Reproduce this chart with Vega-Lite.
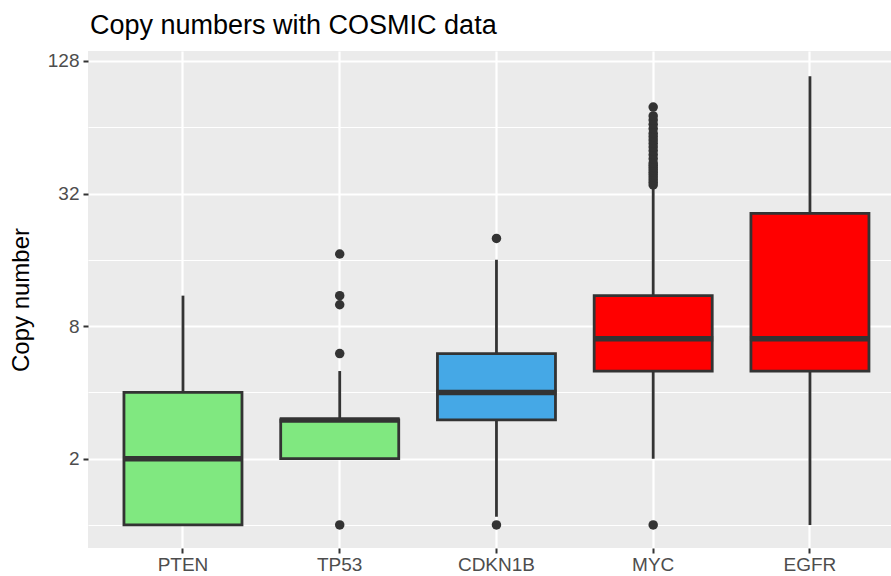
{
  "$schema": "https://vega.github.io/schema/vega-lite/v6.json",
  "width": 803,
  "height": 497,
  "autosize": {"type": "none"},
  "padding": {"left": 88, "top": 51, "right": 0, "bottom": 28},
  "background": "white",
  "title": {
    "text": "Copy numbers with COSMIC data",
    "anchor": "start",
    "frame": "group",
    "baseline": "alphabetic",
    "offset": 18,
    "dx": 2,
    "dy": 28,
    "fontSize": 27,
    "fontWeight": "normal",
    "font": "Liberation Sans",
    "color": "#000000"
  },
  "config": {
    "view": {"fill": "#EBEBEB", "stroke": null},
    "font": "Liberation Sans"
  },
  "datasets": {
    "boxes": [
      {"gene": "PTEN", "lower": 1, "q1": 1, "median": 2, "q3": 4, "upper": 11},
      {"gene": "TP53", "lower": 2, "q1": 2, "median": 3, "q3": 3, "upper": 5},
      {"gene": "CDKN1B", "lower": 1.09, "q1": 3, "median": 4, "q3": 6, "upper": 16},
      {"gene": "MYC", "lower": 2, "q1": 5, "median": 7, "q3": 11, "upper": 34},
      {"gene": "EGFR", "lower": 1, "q1": 5, "median": 7, "q3": 26, "upper": 109}
    ],
    "outliers": [
      {"gene": "TP53", "value": 1},
      {"gene": "TP53", "value": 6},
      {"gene": "TP53", "value": 10},
      {"gene": "TP53", "value": 11},
      {"gene": "TP53", "value": 17},
      {"gene": "CDKN1B", "value": 1},
      {"gene": "CDKN1B", "value": 20},
      {"gene": "MYC", "value": 1},
      {"gene": "MYC", "value": 35},
      {"gene": "MYC", "value": 36},
      {"gene": "MYC", "value": 37},
      {"gene": "MYC", "value": 38},
      {"gene": "MYC", "value": 39},
      {"gene": "MYC", "value": 40},
      {"gene": "MYC", "value": 41},
      {"gene": "MYC", "value": 42},
      {"gene": "MYC", "value": 43},
      {"gene": "MYC", "value": 44},
      {"gene": "MYC", "value": 46},
      {"gene": "MYC", "value": 48},
      {"gene": "MYC", "value": 50},
      {"gene": "MYC", "value": 52},
      {"gene": "MYC", "value": 54},
      {"gene": "MYC", "value": 56},
      {"gene": "MYC", "value": 58},
      {"gene": "MYC", "value": 60},
      {"gene": "MYC", "value": 63},
      {"gene": "MYC", "value": 66},
      {"gene": "MYC", "value": 69},
      {"gene": "MYC", "value": 72},
      {"gene": "MYC", "value": 79}
    ]
  },
  "encoding": {
    "x": {
      "field": "gene",
      "type": "nominal",
      "sort": ["PTEN", "TP53", "CDKN1B", "MYC", "EGFR"],
      "scale": {"paddingInner": 0.247, "paddingOuter": 0.185, "align": 0.62},
      "axis": {
        "title": null,
        "labelAngle": 0,
        "labelFontSize": 19,
        "labelColor": "#4D4D4D",
        "labelPadding": 2,
        "domain": false,
        "ticks": true,
        "tickSize": 5,
        "tickWidth": 2,
        "tickColor": "#333333",
        "grid": true,
        "gridColor": "#FFFFFF",
        "gridWidth": 2.2,
        "bandPosition": 0.5
      }
    }
  },
  "layer": [
    {
      "data": {"name": "boxes"},
      "mark": {"type": "rule", "color": "#333333", "strokeWidth": 2.8},
      "encoding": {
        "y": {
          "field": "lower",
          "type": "quantitative",
          "scale": {"type": "log", "base": 2, "domain": [0.786, 142], "nice": false},
          "axis": {
            "title": "Copy number",
            "titleFontSize": 24,
            "titleFontWeight": "normal",
            "titleColor": "#000000",
            "titlePadding": 14,
            "values": [1, 2, 4, 8, 16, 32, 64, 128],
            "labelExpr": "(datum.value == 2 || datum.value == 8 || datum.value == 32 || datum.value == 128) ? format(datum.value, 'd') : ''",
            "labelFontSize": 19,
            "labelColor": "#4D4D4D",
            "labelPadding": 4,
            "domain": false,
            "tickSize": 5,
            "tickWidth": 2,
            "tickColor": "#333333",
            "tickOpacity": {"condition": {"test": "datum.value == 2 || datum.value == 8 || datum.value == 32 || datum.value == 128", "value": 1}, "value": 0},
            "grid": true,
            "gridColor": "#FFFFFF",
            "gridWidth": {"condition": {"test": "datum.value == 2 || datum.value == 8 || datum.value == 32 || datum.value == 128", "value": 2.2}, "value": 1.1}
          }
        },
        "y2": {"field": "upper"}
      }
    },
    {
      "data": {"name": "boxes"},
      "mark": {"type": "bar", "stroke": "#333333", "strokeWidth": 2.8},
      "encoding": {
        "y": {"field": "q1", "type": "quantitative"},
        "y2": {"field": "q3"},
        "fill": {
          "field": "gene",
          "type": "nominal",
          "scale": {
            "domain": ["PTEN", "TP53", "CDKN1B", "MYC", "EGFR"],
            "range": ["#80E880", "#80E880", "#45A8E6", "#FF0000", "#FF0000"]
          },
          "legend": null
        }
      }
    },
    {
      "data": {"name": "boxes"},
      "mark": {"type": "tick", "color": "#333333", "opacity": 1, "thickness": 5.5, "size": 120},
      "encoding": {
        "y": {"field": "median", "type": "quantitative"}
      }
    },
    {
      "data": {"name": "outliers"},
      "mark": {"type": "point", "filled": true, "color": "#333333", "opacity": 1, "size": 90},
      "encoding": {
        "y": {"field": "value", "type": "quantitative"}
      }
    }
  ]
}
